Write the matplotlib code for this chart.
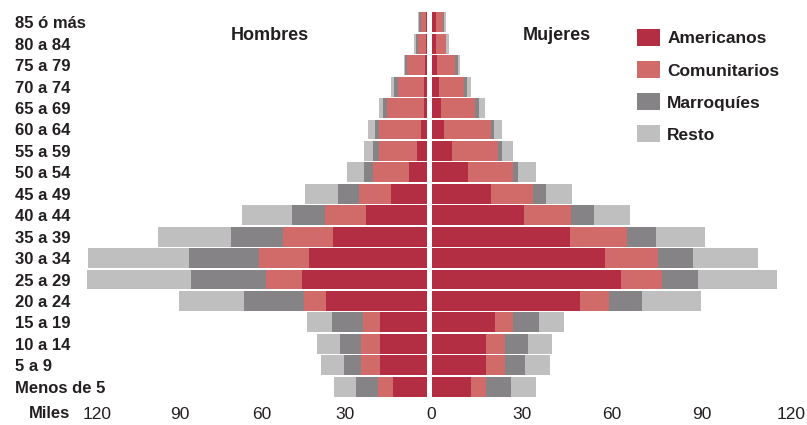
import matplotlib.pyplot as plt
from matplotlib.patches import Patch

# age groups, bottom to top
ages = ['Menos de 5', '5 a 9', '10 a 14', '15 a 19', '20 a 24', '25 a 29', '30 a 34',
        '35 a 39', '40 a 44', '45 a 49', '50 a 54', '55 a 59', '60 a 64', '65 a 69',
        '70 a 74', '75 a 79', '80 a 84', '85 ó más']

# Hombres (miles)
h_americanos = [12.5, 17.1, 17.1, 17.1, 36.6, 45.6, 43.0, 34.2, 22.3, 13.1, 6.7, 3.7, 2.3, 1.2, 1.2, 0.7, 0.4, 0.4]
h_comunitarios = [5.4, 6.8, 6.8, 6.3, 8.2, 13.1, 18.2, 18.1, 14.8, 11.6, 12.8, 13.8, 15.2, 13.3, 9.5, 6.6, 2.9, 1.9]
h_marroquies = [7.9, 6.4, 7.8, 11.3, 21.9, 27.2, 25.2, 18.9, 11.9, 7.6, 3.4, 2.0, 1.4, 1.5, 1.4, 0.6, 0.6, 0.5]
h_resto = [7.9, 8.4, 8.4, 8.8, 23.6, 37.8, 36.9, 26.5, 18.2, 12.2, 6.3, 3.3, 2.4, 1.3, 0.9, 0.6, 0.7, 0.4]

# Mujeres (miles)
m_americanos = [13.2, 18.1, 18.1, 21.3, 49.6, 63.2, 57.8, 46.1, 30.7, 19.8, 12.3, 6.9, 4.2, 3.3, 2.4, 1.9, 1.4, 1.4]
m_comunitarios = [4.9, 6.4, 6.4, 6.0, 9.6, 13.6, 17.6, 19.0, 15.9, 14.1, 15.0, 15.3, 15.7, 11.3, 8.4, 6.0, 3.3, 2.4]
m_marroquies = [8.5, 6.7, 7.6, 8.4, 10.9, 12.1, 11.7, 9.8, 7.7, 4.2, 1.6, 1.3, 0.8, 1.2, 1.0, 0.8, 0.2, 0.5]
m_resto = [8.1, 8.2, 8.2, 8.6, 19.7, 26.2, 21.6, 16.3, 12.0, 8.7, 5.8, 3.7, 2.8, 2.1, 1.3, 0.8, 0.9, 0.6]

groups = ['Americanos', 'Comunitarios', 'Marroquíes', 'Resto']
colors = ['#b42e43', '#d16b6a', '#858386', '#bfbfbf']

left_ticks = [120, 90, 60, 30]
right_ticks = [0, 30, 60, 90, 120]

text_color = '#231f20'
plt.rcParams['font.family'] = ['Liberation Sans', 'DejaVu Sans']

W, H = 807, 425
fig = plt.figure(figsize=(W / 100, H / 100), dpi=100)

bottom = (H - 397.4) / H
height = (397.4 - 11.6) / H
ax_h = fig.add_axes([15 / W, bottom, (427 - 15) / W, height])
ax_m = fig.add_axes([431.5 / W, bottom, (800 - 431.5) / W, height])

y = list(range(len(ages)))
bar_h = 0.93

for ax, series in [(ax_h, [h_americanos, h_comunitarios, h_marroquies, h_resto]),
                   (ax_m, [m_americanos, m_comunitarios, m_marroquies, m_resto])]:
    base = [0.0] * len(ages)
    for vals, col in zip(series, colors):
        ax.barh(y, vals, left=base, height=bar_h, color=col, linewidth=0)
        base = [b + v for b, v in zip(base, vals)]
    ax.set_ylim(-0.5, len(ages) - 0.5)
    for s in ax.spines.values():
        s.set_visible(False)
    ax.tick_params(length=0, colors=text_color, labelsize=12.5, pad=7)

ax_h.set_xlim((427 - 15) / 2.75, 0)
ax_m.set_xlim(0, (800 - 431.5) / 3.0)

ax_h.set_xticks(left_ticks)
ax_h.set_xticklabels([str(t) for t in left_ticks])
ax_m.set_xticks(right_ticks)
ax_m.set_xticklabels([str(t) for t in right_ticks])

ax_h.set_yticks(y)
ax_h.set_yticklabels(ages, ha='left', fontsize=12, fontweight='bold')
ax_h.tick_params(axis='y', pad=0)
ax_m.set_yticks([])

fig.text(49.5 / W, 1 - 413 / H, 'Miles', ha='center', va='center',
         fontsize=12, fontweight='bold', color=text_color)
fig.text(269.5 / W, 1 - 35 / H, 'Hombres', ha='center', va='center',
         fontsize=13, fontweight='bold', color=text_color)
fig.text(556.7 / W, 1 - 35 / H, 'Mujeres', ha='center', va='center',
         fontsize=13, fontweight='bold', color=text_color)

handles = [Patch(facecolor=c, edgecolor='none', label=g) for g, c in zip(groups, colors)]
leg = fig.legend(handles=handles, loc='upper left', bbox_to_anchor=(637 / W, 1 - 29 / H),
                 frameon=False, borderpad=0, borderaxespad=0,
                 prop={'size': 12.5, 'weight': 'bold'},
                 handlelength=1.32, handleheight=1.15, handletextpad=0.42, labelspacing=0.84)
for t in leg.get_texts():
    t.set_color(text_color)

fig.savefig('out.png', dpi=100, facecolor='white')
